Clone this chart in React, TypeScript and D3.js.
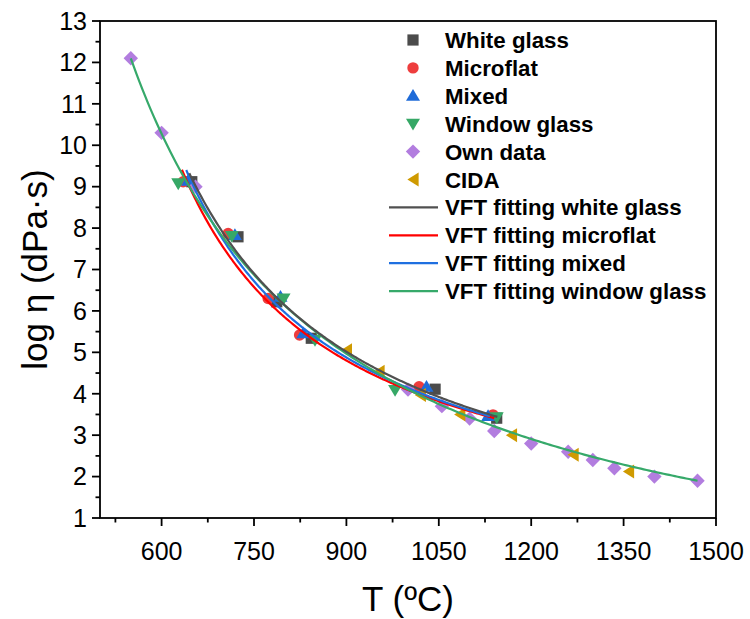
import React from "react";
import * as d3 from "d3";

// Measured viscosity points: temperature (ºC) and log η (dPa·s)
const whiteGlassT = [649, 724, 787, 843, 1044, 1144];
const whiteGlassLog = [9.12, 7.79, 6.22, 5.34, 4.11, 3.41];
const microflatT = [635, 708, 773, 824, 1018, 1138];
const microflatLog = [9.12, 7.87, 6.3, 5.42, 4.17, 3.49];
const mixedT = [643, 719, 793, 830, 1030, 1130];
const mixedLog = [9.14, 7.83, 6.34, 5.46, 4.17, 3.46];
const windowT = [627, 714, 798, 849, 979, 1144];
const windowLog = [9.08, 7.81, 6.3, 5.3, 4.09, 3.43];
const ownT = [550, 600, 655, 1000, 1055, 1100, 1140, 1200, 1260, 1300, 1335, 1400, 1470];
const ownLog = [12.1, 10.3, 9.0, 4.1, 3.7, 3.4, 3.1, 2.8, 2.6, 2.4, 2.2, 2.0, 1.9];
const cidaT = [900, 953, 1020, 1084, 1168, 1268, 1358];
const cidaLog = [5.05, 4.53, 3.97, 3.5, 3.0, 2.53, 2.12];

// VFT fits: log η = A + B / (T - T0)
const fitNames = [
  "VFT fitting white glass",
  "VFT fitting microflat",
  "VFT fitting mixed",
  "VFT fitting window glass",
];
const fitA = [-0.165, 0.385, 0.268, -1.761];
const fitB = [2909.6, 2309.7, 2417, 4576.7];
const fitT0 = [338.3, 377, 375.4, 219.8];
const fitStart = [645, 633, 640, 550];
const fitEnd = [1145, 1140, 1133, 1470];
const fitColors = ["#505050", "#ff0000", "#1f6fe0", "#36a96a"];

const xTicks = [600, 750, 900, 1050, 1200, 1350, 1500];
const yTicks = [1, 2, 3, 4, 5, 6, 7, 8, 9, 10, 11, 12, 13];

const W = 750;
const H = 619;
const M = { left: 100, right: 716, top: 21, bottom: 518 };
const FONT = "'Liberation Sans', Arial, sans-serif";

const x = d3.scaleLinear().domain([500, 1500]).range([M.left, M.right]);
const y = d3.scaleLinear().domain([1, 13]).range([M.bottom, M.top]);

type Shape = "square" | "circle" | "up" | "down" | "diamond" | "left";

function markerPath(shape: Shape): string {
  switch (shape) {
    case "square":
      return "M-5.6,-5.6H5.6V5.6H-5.6Z";
    case "up":
      return "M0,-6.8L7,5L-7,5Z";
    case "down":
      return "M0,6.8L7,-5L-7,-5Z";
    case "diamond":
      return "M0,-7.2L7.2,0L0,7.2L-7.2,0Z";
    case "left":
      return "M-5.6,0L5.6,-7L5.6,7Z";
    default:
      return "";
  }
}

function Marker({ shape, cx, cy, color }: { shape: Shape; cx: number; cy: number; color: string }) {
  if (shape === "circle") return <circle cx={cx} cy={cy} r={5.7} fill={color} />;
  return <path d={markerPath(shape)} transform={`translate(${cx},${cy})`} fill={color} />;
}

const series: { name: string; shape: Shape; color: string; t: number[]; v: number[] }[] = [
  { name: "White glass", shape: "square", color: "#4b4b4b", t: whiteGlassT, v: whiteGlassLog },
  { name: "Microflat", shape: "circle", color: "#ee3d3d", t: microflatT, v: microflatLog },
  { name: "Mixed", shape: "up", color: "#1f6bd8", t: mixedT, v: mixedLog },
  { name: "Window glass", shape: "down", color: "#36a866", t: windowT, v: windowLog },
  { name: "Own data", shape: "diamond", color: "#b27ddf", t: ownT, v: ownLog },
  { name: "CIDA", shape: "left", color: "#cf9a00", t: cidaT, v: cidaLog },
];

const line = d3
  .line<[number, number]>()
  .x((d) => x(d[0]))
  .y((d) => y(d[1]))
  .curve(d3.curveLinear);

function fitPath(i: number): string {
  const pts: [number, number][] = [];
  const n = 200;
  for (let k = 0; k <= n; k++) {
    const t = fitStart[i] + ((fitEnd[i] - fitStart[i]) * k) / n;
    pts.push([t, fitA[i] + fitB[i] / (t - fitT0[i])]);
  }
  return line(pts) || "";
}

export default function App() {
  const xMinor = d3.range(525, 1500, 150);
  const yMinor = d3.range(1.5, 13, 1);
  const drawOrder = [1, 2, 3, 0];
  const legX = 413;
  const legTextX = 445;
  const legY0 = 40;
  const legStep = 27.9;

  return (
    <svg
      width={W}
      height={H}
      style={{ position: "absolute", left: 0, top: 0, background: "#fff" }}
      fontFamily={FONT}
    >
      <rect x={0} y={0} width={W} height={H} fill="#fff" />

      {/* data markers */}
      {series.map((s) =>
        s.t.map((t, i) => (
          <Marker key={`${s.name}-${i}`} shape={s.shape} cx={x(t)} cy={y(s.v[i])} color={s.color} />
        ))
      )}

      {/* VFT fitting curves */}
      {drawOrder.map((i) => (
        <path key={fitNames[i]} d={fitPath(i)} fill="none" stroke={fitColors[i]} strokeWidth={2.2} />
      ))}

      {/* frame */}
      <rect
        x={M.left}
        y={M.top}
        width={M.right - M.left}
        height={M.bottom - M.top}
        fill="none"
        stroke="#000"
        strokeWidth={1.8}
      />

      {/* x axis ticks */}
      {xTicks.map((t) => (
        <g key={`xt${t}`}>
          <line x1={x(t)} x2={x(t)} y1={M.bottom} y2={M.bottom + 8} stroke="#000" strokeWidth={1.8} />
          <text x={x(t)} y={M.bottom + 42} textAnchor="middle" fontSize={25} fill="#000">
            {t}
          </text>
        </g>
      ))}
      {xMinor.map((t) => (
        <line key={`xm${t}`} x1={x(t)} x2={x(t)} y1={M.bottom} y2={M.bottom + 4.5} stroke="#000" strokeWidth={1.8} />
      ))}

      {/* y axis ticks */}
      {yTicks.map((v) => (
        <g key={`yt${v}`}>
          <line x1={M.left - 8} x2={M.left} y1={y(v)} y2={y(v)} stroke="#000" strokeWidth={1.8} />
          <text x={M.left - 13} y={y(v)} dy="0.35em" textAnchor="end" fontSize={25} fill="#000">
            {v}
          </text>
        </g>
      ))}
      {yMinor.map((v) => (
        <line key={`ym${v}`} x1={M.left - 4.5} x2={M.left} y1={y(v)} y2={y(v)} stroke="#000" strokeWidth={1.8} />
      ))}

      {/* axis titles */}
      <text x={(M.left + M.right) / 2} y={611} textAnchor="middle" fontSize={35} fill="#000">
        T (ºC)
      </text>
      <text
        transform={`translate(47,${(M.top + M.bottom) / 2}) rotate(-90)`}
        textAnchor="middle"
        fontSize={35}
        fill="#000"
      >
        log η (dPa·s)
      </text>

      {/* legend */}
      {series.map((s, i) => (
        <g key={`leg-${s.name}`}>
          <Marker shape={s.shape} cx={legX} cy={legY0 + i * legStep} color={s.color} />
          <text x={legTextX} y={legY0 + i * legStep} dy="0.36em" fontSize={22.3} fontWeight="bold" fill="#000">
            {s.name}
          </text>
        </g>
      ))}
      {fitNames.map((name, j) => {
        const cy = legY0 + (series.length + j) * legStep;
        return (
          <g key={`leg-${name}`}>
            <line x1={389} x2={438} y1={cy} y2={cy} stroke={fitColors[j]} strokeWidth={2.2} />
            <text x={legTextX} y={cy} dy="0.36em" fontSize={22.3} fontWeight="bold" fill="#000">
              {name}
            </text>
          </g>
        );
      })}
    </svg>
  );
}
